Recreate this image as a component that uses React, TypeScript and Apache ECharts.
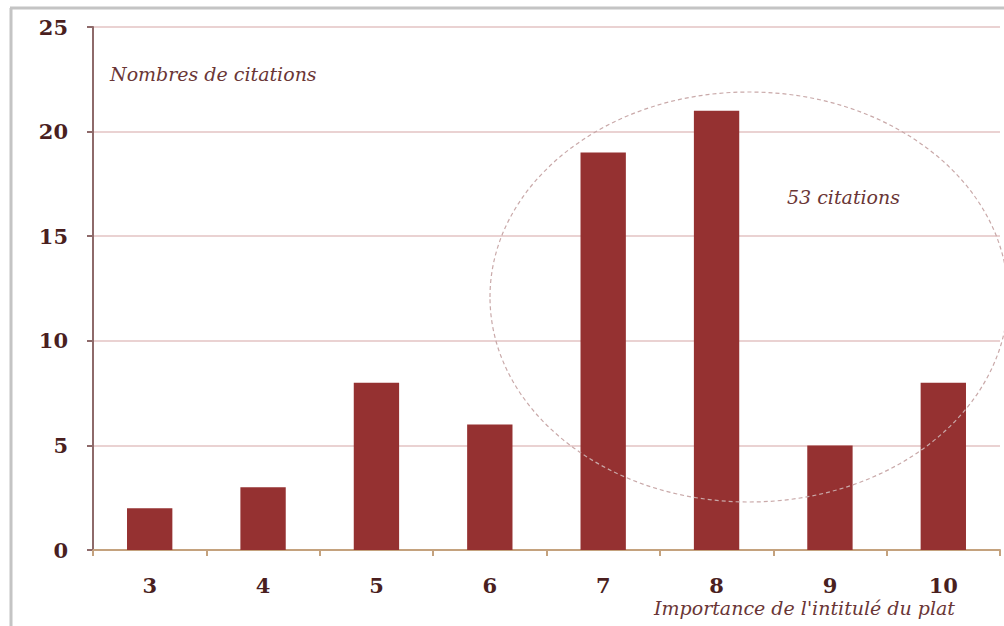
import React, { useEffect, useRef } from "react";
import * as echarts from "echarts";

const categories = ["3", "4", "5", "6", "7", "8", "9", "10"];
const citations = [2, 3, 8, 6, 19, 21, 5, 8];
const yTicks = { min: 0, max: 25, interval: 5 };
const yTitle = "Nombres de citations";
const xTitle = "Importance de l'intitulé du plat";
const circleLabel = "53 citations";

const FONT = "'DejaVu Serif', 'Liberation Serif', serif";

export default function App() {
  const ref = useRef<HTMLDivElement>(null);
  useEffect(() => {
    if (!ref.current) return;
    const chart = echarts.init(ref.current, null, { renderer: "svg" });
    chart.setOption({
      animation: false,
      backgroundColor: "#ffffff",
      grid: { left: 93, right: 4, top: 27, bottom: 76, containLabel: false },
      xAxis: {
        type: "category",
        data: categories,
        axisLine: { lineStyle: { color: "#c4a27e", width: 2 } },
        axisTick: { show: true, length: 6, lineStyle: { color: "#c4a27e", width: 2 } },
        axisLabel: {
          color: "#4a1f1f",
          fontFamily: FONT,
          fontWeight: "bold",
          fontSize: 21,
          margin: 25,
        },
      },
      yAxis: {
        type: "value",
        min: yTicks.min,
        max: yTicks.max,
        interval: yTicks.interval,
        axisLine: { show: true, lineStyle: { color: "#8e6a6a", width: 2 } },
        axisTick: { show: true, length: 6, lineStyle: { color: "#8e6a6a", width: 2 } },
        axisLabel: {
          color: "#4a1f1f",
          fontFamily: FONT,
          fontWeight: "bold",
          fontSize: 21,
          margin: 25,
        },
        splitLine: { lineStyle: { color: "#ead2d2", width: 2 } },
      },
      series: [
        {
          type: "bar",
          data: citations,
          barWidth: "40%",
          itemStyle: { color: "#953131" },
        },
      ],
      graphic: [
        {
          type: "line",
          shape: { x1: 11, y1: 8, x2: 11, y2: 626 },
          style: { stroke: "#c4c4c4", lineWidth: 3 },
        },
        {
          type: "line",
          shape: { x1: 10, y1: 8, x2: 1004, y2: 8 },
          style: { stroke: "#c4c4c4", lineWidth: 3 },
        },
        {
          type: "ellipse",
          shape: { cx: 749, cy: 297, rx: 259, ry: 205 },
          style: { fill: "none", stroke: "#c9a9a9", lineWidth: 1.2, lineDash: [4, 3] },
          z: 100,
        },
        {
          type: "text",
          left: 110,
          top: 64,
          style: {
            text: yTitle,
            fill: "#6a3636",
            font: "italic 19px " + FONT,
          },
        },
        {
          type: "text",
          left: 787,
          top: 187,
          style: {
            text: circleLabel,
            fill: "#6a3636",
            font: "italic 19px " + FONT,
          },
        },
        {
          type: "text",
          right: 49,
          top: 598,
          style: {
            text: xTitle,
            fill: "#6a3636",
            font: "italic 19px " + FONT,
          },
        },
      ],
    });
    return () => chart.dispose();
  }, []);
  return (
    <div
      ref={ref}
      style={{ position: "fixed", left: 0, top: 0, width: 1004, height: 626 }}
    />
  );
}
